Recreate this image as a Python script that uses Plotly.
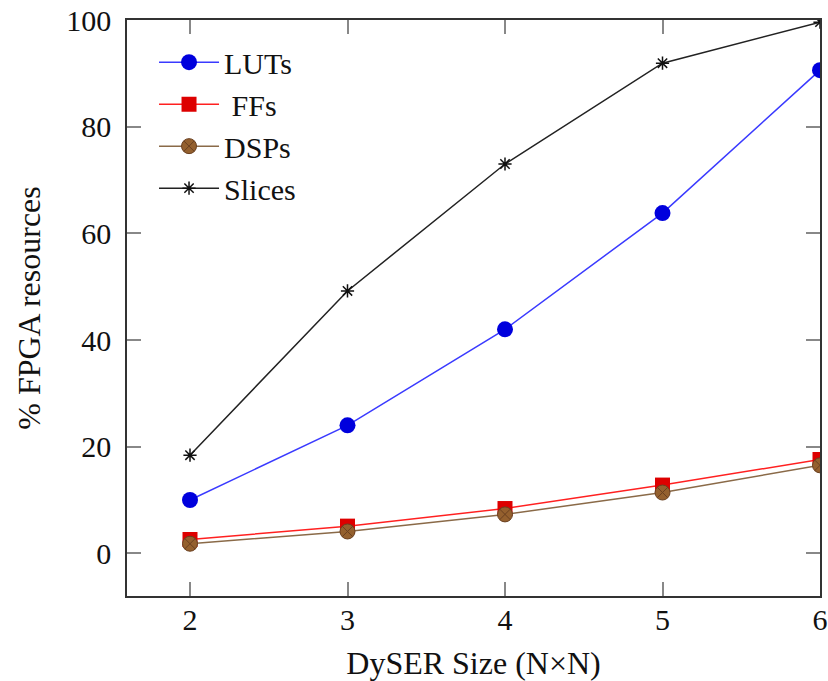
import plotly.graph_objects as go

sizes = [2, 3, 4, 5, 6]
luts = [10.0, 24.0, 42.0, 63.8, 90.6]
ffs = [2.6, 5.1, 8.4, 12.8, 17.6]
dsps = [1.8, 4.1, 7.3, 11.4, 16.5]
slices = [18.4, 49.2, 73.0, 91.9, 99.6]

x_ticks = [2, 3, 4, 5, 6]
y_ticks = [0, 20, 40, 60, 80, 100]

FONT = "Liberation Serif"

fig = go.Figure()
fig.add_trace(go.Scatter(
    x=sizes, y=luts, name="LUTs", mode="lines+markers",
    line=dict(color="#3a3aff", width=1.5),
    marker=dict(symbol="circle", size=16, color="#0000dd", line=dict(width=0))))
fig.add_trace(go.Scatter(
    x=sizes, y=ffs, name="\u00a0FFs", mode="lines+markers",
    line=dict(color="#ff2020", width=1.5),
    marker=dict(symbol="square", size=15, color="#dd0000", line=dict(width=0))))
fig.add_trace(go.Scatter(
    x=sizes, y=dsps, name="DSPs", mode="lines+markers",
    line=dict(color="#8a6a48", width=1.5),
    marker=dict(symbol="circle-x", size=15, color="#94602e",
                line=dict(color="#6a4020", width=1))))
fig.add_trace(go.Scatter(
    x=sizes, y=slices, name="Slices", mode="lines+markers",
    line=dict(color="#222222", width=1.5),
    marker=dict(symbol="asterisk-open", size=11, color="#111111",
                line=dict(color="#111111", width=1.5))))

axis_common = dict(
    showline=True, linecolor="#333333", linewidth=1.5, mirror="ticks",
    ticks="inside", ticklen=14, tickwidth=1.5, tickcolor="#888888",
    showgrid=False, zeroline=False, automargin=False,
    tickfont=dict(family=FONT, size=30, color="#111111"),
)

fig.update_xaxes(
    range=[1.6, 6.0], tickvals=x_ticks, ticktext=[str(v) for v in x_ticks],
    title=dict(text="DySER Size (N\u00d7N)", font=dict(family=FONT, size=32, color="#111111"),
               standoff=20),
    ticklabelstandoff=-4,
    **axis_common)
fig.update_yaxes(
    range=[-8, 100], tickvals=y_ticks, ticktext=[str(v) for v in y_ticks],
    title=dict(text="% FPGA resources", font=dict(family=FONT, size=32, color="#111111"),
               standoff=16),
    ticklabelstandoff=8,
    **axis_common)

fig.update_layout(
    width=828, height=681,
    margin=dict(l=127, r=8, t=20, b=85, autoexpand=False),
    paper_bgcolor="white", plot_bgcolor="white",
    font=dict(family=FONT, size=30, color="#111111"),
    showlegend=True,
    legend=dict(x=0.039, y=0.972, xanchor="left", yanchor="top",
                bgcolor="rgba(255,255,255,0)", borderwidth=0,
                font=dict(family=FONT, size=30, color="#111111"),
                itemwidth=60, tracegroupgap=0),
)

fig.write_html(
    "out.html",
    config={"displayModeBar": False},
    post_script="document.body.style.margin='0';document.body.style.overflow='hidden';",
)
